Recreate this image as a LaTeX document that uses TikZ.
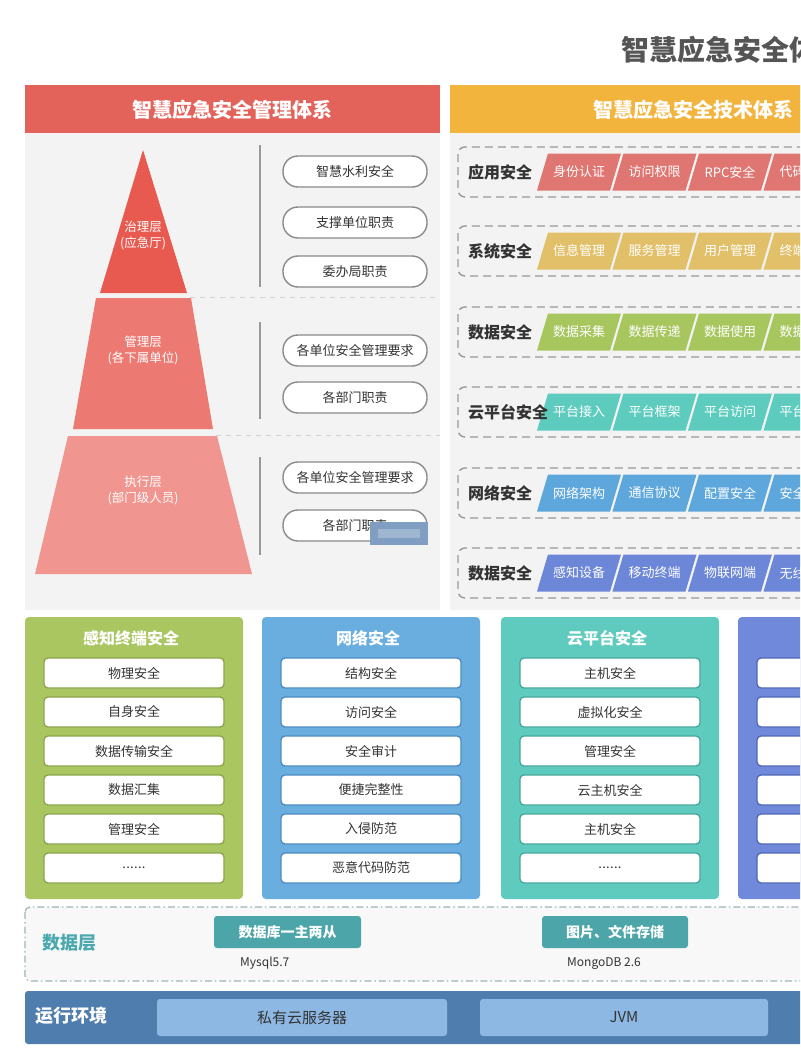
\documentclass[tikz,border=0pt]{standalone}
\usepackage{fontspec}
\setmainfont{Noto Sans CJK SC}
\newcommand{\dotsix}{.\kern0.3pt.\kern0.3pt.\kern0.3pt.\kern0.3pt.\kern0.3pt.}
\definecolor{hdred}{HTML}{E3625A}
\definecolor{hdorange}{HTML}{F3B43E}
\definecolor{panelgray}{HTML}{F3F3F3}
\definecolor{titlegray}{HTML}{555555}
\definecolor{txt}{HTML}{333333}
\definecolor{pillgray}{HTML}{8A8A8A}
\definecolor{pyrA}{HTML}{E8594F}
\definecolor{pyrB}{HTML}{EC7A72}
\definecolor{pyrC}{HTML}{F0958F}
\definecolor{rowA}{HTML}{E07672}
\definecolor{rowB}{HTML}{E2C06A}
\definecolor{rowC}{HTML}{A8C65E}
\definecolor{rowD}{HTML}{5DCBBE}
\definecolor{rowE}{HTML}{5EA7DD}
\definecolor{rowF}{HTML}{6C87D8}
\definecolor{gA}{HTML}{A9C660}
\definecolor{gB}{HTML}{6AAEE0}
\definecolor{gC}{HTML}{5FCBBE}
\definecolor{gD}{HTML}{7089DA}
\definecolor{gAb}{HTML}{8AA54A}
\definecolor{gBb}{HTML}{4A8AC0}
\definecolor{gCb}{HTML}{45A79B}
\definecolor{gDb}{HTML}{4D66B5}
\definecolor{tealbox}{HTML}{4CA5A9}
\definecolor{teallab}{HTML}{4AA8AE}
\definecolor{runbar}{HTML}{4F7DAE}
\definecolor{runbox}{HTML}{8DB8E3}
\definecolor{dashgray}{HTML}{999999}
\definecolor{datadash}{HTML}{9DB5B8}
\definecolor{wmark}{HTML}{7F9EC2}
\begin{document}
\begin{tikzpicture}[x=1pt,y=-1pt,
  pill/.style={draw=pillgray, line width=1.4pt, fill=white, rounded corners=15pt,
    minimum width=144pt, minimum height=31pt, inner sep=0pt,
    font=\fontsize{13}{13}\selectfont, text=txt},
  hdtext/.style={font=\fontsize{20}{20}\selectfont\bfseries, text=white},
  pyrtext/.style={font=\fontsize{12.5}{16}\selectfont, text=white, align=center},
  rowbox/.style={draw=dashgray, line width=1.4pt, dash pattern=on 8pt off 5pt, rounded corners=7pt},
  rowlabel/.style={font=\fontsize{16}{16}\selectfont\bfseries, text=txt, anchor=west, inner sep=0pt},
  rowitem/.style={font=\fontsize{13}{13}\selectfont, text=white},
  paneltitle/.style={font=\fontsize{16}{16}\selectfont\bfseries, text=white},
  innerbox/.style={fill=white, line width=1.3pt, rounded corners=4pt, minimum width=180pt,
    minimum height=30pt, inner sep=0pt, font=\fontsize{13}{13}\selectfont, text=txt},
  sepline/.style={draw=dashgray, line width=1.5pt},
  leveldash/.style={draw=black!18, line width=1pt, dash pattern=on 5pt off 5pt}
]
\useasboundingbox (0,0) rectangle (800,1054);
\clip (0,0) rectangle (800,1054);
\fill[white] (0,0) rectangle (800,1054);

% main title
\node[anchor=west, inner sep=0pt, font=\fontsize{28}{28}\selectfont\bfseries, text=titlegray] (maintitle) at (621,50) {智慧应急安全体系};

% headers
\fill[hdred] (25,85) rectangle (440,133);
\node[hdtext] (hdleft) at (232.5,110) {智慧应急安全管理体系};
\fill[hdorange] (450,85) rectangle (936,133);
\node[hdtext] (hdright) at (693,110) {智慧应急安全技术体系};

% gray panels
\fill[panelgray] (25,133) rectangle (440,610);
\fill[panelgray] (450,133) rectangle (936,610);

% level dashed separators
\draw[leveldash] (190,297) -- (440,297);
\draw[leveldash] (216,435) -- (440,435);

% pyramid
\fill[pyrA] (143,150) -- (187,293) -- (100,293) -- cycle;
\fill[pyrB] (96,298) -- (191,298) -- (213,429) -- (73,429) -- cycle;
\fill[pyrC] (68,436) -- (217,436) -- (252,574) -- (35,574) -- cycle;
\node[pyrtext] (lvA) at (143,235) {治理层\\(应急厅)};
\node[pyrtext] (lvB) at (143,350) {管理层\\(各下属单位)};
\node[pyrtext] (lvC) at (143,490) {执行层\\(部门级人员)};

% vertical separators
\draw[sepline] (260,145) -- (260,287);
\draw[sepline] (260,322) -- (260,419);
\draw[sepline] (260,457) -- (260,555);

% pills
\node[pill] (p1) at (355,171.5) {智慧水利安全};
\node[pill] (p2) at (355,222.5) {支撑单位职责};
\node[pill] (p3) at (355,271.5) {委办局职责};
\node[pill] (p4) at (355,350.5) {各单位安全管理要求};
\node[pill] (p5) at (355,397.5) {各部门职责};
\node[pill] (p6) at (355,477.5) {各单位安全管理要求};
\node[pill] (p7) at (355,525.5) {各部门职责};
\fill[wmark] (370,522) rectangle (428,545);
\fill[white, opacity=0.25] (378,529) rectangle (420,538);

% technical rows
\foreach \yc/\col/\lab/\items [count=\r] in {
  172/rowA/应用安全/{身份认证,访问权限,RPC安全,代码安全},
  251/rowB/系统安全/{信息管理,服务管理,用户管理,终端管理},
  332/rowC/数据安全/{数据采集,数据传递,数据使用,数据存储},
  412/rowD/云平台安全/{平台接入,平台框架,平台访问,平台管理},
  493/rowE/网络安全/{网络架构,通信协议,配置安全,安全审计},
  573/rowF/数据安全/{感知设备,移动终端,物联网端,无线网络}} {
  \draw[rowbox] (458,\yc-25) rectangle (960,\yc+25);
  \foreach \t [count=\j from 0] in \items {
    \pgfmathsetmacro\bx{537+75.5*\j}
    \fill[\col] (\bx,\yc+18.5) -- (\bx+11,\yc-18.5) -- (\bx+84,\yc-18.5) -- (\bx+73,\yc+18.5) -- cycle;
    \node[rowitem] (item\r-\j) at (\bx+42,\yc) {\t};
  }
  \node[rowlabel] (rowlab\r) at (468,\yc) {\lab};
}

% bottom panels
\foreach \px/\col/\bord/\ttl/\items [count=\p] in {
  25/gA/gAb/感知终端安全/{物理安全,自身安全,数据传输安全,数据汇集,管理安全,\dotsix},
  262/gB/gBb/网络安全/{结构安全,访问安全,安全审计,便捷完整性,入侵防范,恶意代码防范},
  501/gC/gCb/云平台安全/{主机安全,虚拟化安全,管理安全,云主机安全,主机安全,\dotsix},
  738/gD/gDb/{}/{{},{},{},{},{},{}}} {
  \fill[\col, rounded corners=4pt] (\px,617) rectangle (\px+218,899);
  \node[paneltitle] (ptitle\p) at (\px+106,638) {\ttl};
  \foreach \t [count=\k from 0] in \items {
    \node[innerbox, draw=\bord] (pbox\p-\k) at (\px+109,673+39*\k) {\t};
  }
}

% data layer
\draw[datadash, fill=panelgray!60, line width=1.2pt, dash pattern=on 7pt off 3pt on 1.5pt off 3pt, rounded corners=5pt] (25,907) rectangle (960,981);
\node[anchor=west, inner sep=0pt, font=\fontsize{18}{18}\selectfont\bfseries, text=teallab] (datalab) at (42,943) {数据层};
\node[fill=tealbox, rounded corners=3pt, minimum width=147pt, minimum height=32pt, inner sep=0pt,
  font=\fontsize{14}{14}\selectfont\bfseries, text=white] (db1) at (287.5,932) {数据库一主两从};
\node[fill=tealbox, rounded corners=3pt, minimum width=146pt, minimum height=32pt, inner sep=0pt,
  font=\fontsize{14}{14}\selectfont\bfseries, text=white] (db2) at (615,932) {图片、文件存储};
\node[anchor=west, inner sep=0pt, font=\fontsize{12}{12}\selectfont, text=txt] (db1v) at (240,963.5) {Mysql5.7};
\node[anchor=west, inner sep=0pt, font=\fontsize{12}{12}\selectfont, text=txt] (db2v) at (567,963.5) {MongoDB 2.6};

% runtime
\fill[runbar, rounded corners=3pt] (25,991) rectangle (960,1044);
\node[anchor=west, inner sep=0pt, font=\fontsize{18}{18}\selectfont\bfseries, text=white] (runlab) at (35,1016) {运行环境};
\node[fill=runbox, rounded corners=3pt, minimum width=290pt, minimum height=37pt, inner sep=0pt,
  font=\fontsize{15}{15}\selectfont, text=txt] (rt1) at (302,1017.5) {私有云服务器};
\node[fill=runbox, rounded corners=3pt, minimum width=288pt, minimum height=37pt, inner sep=0pt,
  font=\fontsize{15}{15}\selectfont, text=txt] (rt2) at (624,1017.5) {JVM};
\end{tikzpicture}
\end{document}
